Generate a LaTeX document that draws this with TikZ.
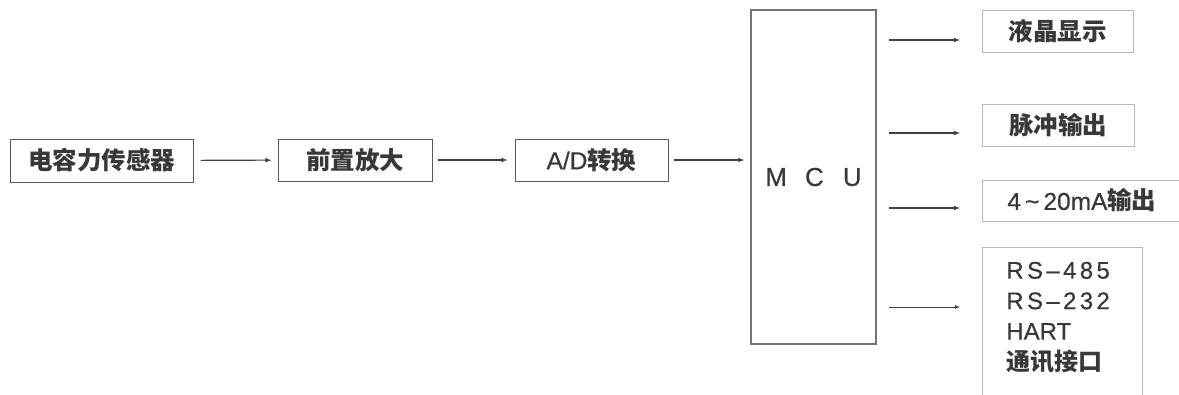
\documentclass[tikz,border=0pt]{standalone}
\usepackage{fontspec}
\setmainfont{Liberation Sans}[FakeBold=0.5]
\newfontfamily\cjk{Noto Sans CJK SC}
\newfontfamily\spaced{Liberation Sans}[LetterSpace=14,FakeBold=0.5]
\usetikzlibrary{arrows}

\begin{document}
\begin{tikzpicture}[x=1pt,y=-1pt,
    blk/.style={draw=black!65,line width=1pt,inner sep=0pt,text=black!78,font=\fontsize{24.5}{27}\selectfont},
    outbox/.style={draw=black!28,line width=0.7pt,inner sep=0pt,text=black!78,font=\fontsize{24.5}{27}\selectfont},
    arr/.style={-latex,line width=1.1pt,draw=black!75}]
  \useasboundingbox (0,0) rectangle (1179,394);
  % signal chain
  \node[blk,minimum width=183pt,minimum height=43pt] (sensor) at (101.5,160.5) {\cjk\bfseries 电容力传感器};
  \node[blk,minimum width=154pt,minimum height=42pt] (amp) at (355,160) {\cjk\bfseries 前置放大};
  \node[blk,minimum width=153pt,minimum height=42pt] (adc) at (591.5,160) {A/D{\cjk\bfseries 转换}};
  \node[blk,draw=black!55,line width=1.3pt,minimum width=125pt,minimum height=334pt,font=\fontsize{26}{28}\selectfont] (mcu) at (813.5,177)
    {M\hspace{18pt}C\hspace{19pt}U};
  % outputs
  \node[outbox,minimum width=151pt,minimum height=42pt] (lcd) at (1057.5,31) {\cjk\bfseries 液晶显示};
  \node[outbox,minimum width=152pt,minimum height=42pt] (pulse) at (1058,125) {\cjk\bfseries 脉冲输出};
  \node[outbox,anchor=west,minimum height=41pt,text width=153pt,inner xsep=25pt,align=left] (cur) at (982,200.5)
    {4\,\textasciitilde\,20mA{\cjk\bfseries 输出}};
  \node[outbox,anchor=north west,minimum height=160pt,text width=112pt,inner xsep=24pt,inner ysep=1pt,align=left,
    font=\fontsize{24}{30.5}\selectfont] (comm) at (982,247)
    {{\spaced RS–485}\\{\spaced RS–232}\\HART\\{\cjk\bfseries 通讯接口}\par\vspace*{20pt}};
  % arrows
  \draw[arr,shorten <=7pt,shorten >=6pt] (sensor) -- (amp);
  \draw[arr,shorten <=5pt,shorten >=7pt] (amp) -- (adc);
  \draw[arr,shorten <=5pt,shorten >=6pt] (adc) -- (mcu.west |- adc);
  \coordinate (t1) at (960,40);
  \coordinate (t2) at (960,133);
  \coordinate (t3) at (960,208);
  \coordinate (t4) at (960,307);
  \draw[arr,shorten <=12pt] (mcu.east |- t1) -- (t1);
  \draw[arr,shorten <=12pt] (mcu.east |- t2) -- (t2);
  \draw[arr,shorten <=12pt] (mcu.east |- t3) -- (t3);
  \draw[arr,line width=0.7pt,shorten <=12pt] (mcu.east |- t4) -- (t4);
\end{tikzpicture}
\end{document}
